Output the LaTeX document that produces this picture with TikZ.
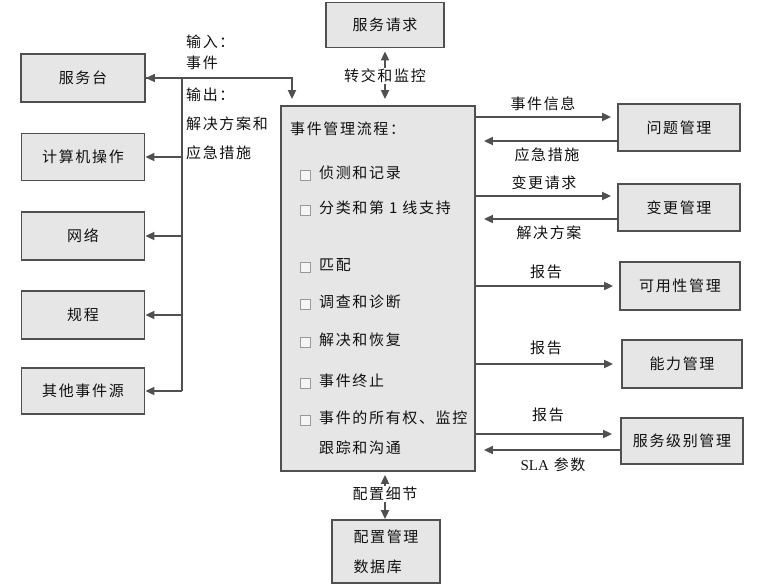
\documentclass[tikz,border=0pt]{standalone}
\usepackage{fontspec}
\setmainfont[LetterSpace=11]{Noto Sans CJK SC}
\newfontfamily\latinserif{Liberation Serif}
\usetikzlibrary{arrows.meta,calc}
\definecolor{boxfill}{HTML}{E6E6E6}
\definecolor{edge}{HTML}{505050}
\definecolor{ink}{HTML}{111111}
\tikzset{
  box/.style={draw=edge, line width=1.8pt, fill=boxfill, inner sep=0pt, text=ink, font=\fontsize{15}{17}\selectfont},
  arr/.style={draw=edge, line width=1.8pt, -{Triangle[length=9pt,width=8pt]}},
  plain/.style={draw=edge, line width=1.8pt},
  lbl/.style={text=ink, font=\fontsize{15}{17}\selectfont, inner sep=1pt},
  chk/.style={draw=gray!80, line width=1pt, fill=white!60!boxfill, minimum size=10pt, inner sep=0pt},
}
\begin{document}
\begin{tikzpicture}[x=1pt,y=-1pt]
\useasboundingbox (0,0) rectangle (759,586);
% left boxes
\node[box, minimum width=124pt, minimum height=48pt] (desk) at (83,78) {服务台};
\node[box, minimum width=123pt, minimum height=47pt] (comp) at (83,157) {计算机操作};
\node[box, minimum width=123pt, minimum height=48pt] (net) at (83,236) {网络};
\node[box, minimum width=123pt, minimum height=48pt] (proc) at (83,315) {规程};
\node[box, minimum width=123pt, minimum height=46pt] (other) at (83,391) {其他事件源};
% top and bottom
\node[box, minimum width=118pt, minimum height=45pt] (req) at (385,25) {服务请求};
\node[box, minimum width=108pt, minimum height=63pt, align=left, font=\fontsize{15}{30}\selectfont] (cmdb) at (386,551.5) {配置管理\\数据库};
% main box
\node[box, minimum width=194pt, minimum height=365pt] (main) at (378,288.5) {};
\node[lbl, anchor=west] (title) at (289,129) {事件管理流程：};
\foreach \n/\y/\t in {a/173/侦测和记录, b/208/分类和第 1 线支持, c/265/匹配, d/302/调查和诊断, e/340/解决和恢复, f/381/事件终止, g/418/事件的所有权、监控}{
  \node[chk] (c\n) at (305,\y+2) {};
  \node[lbl, anchor=west] (t\n) at (318,\y) {\t};
}
\node[lbl, anchor=west] (th) at (318,448) {跟踪和沟通};
% right boxes
\node[box, minimum width=122pt, minimum height=47pt] (prob) at (679,127.5) {问题管理};
\node[box, minimum width=122pt, minimum height=47pt] (chg) at (679,207.5) {变更管理};
\node[box, minimum width=120pt, minimum height=48pt] (avail) at (680,286) {可用性管理};
\node[box, minimum width=120pt, minimum height=48pt] (cap) at (682,364) {能力管理};
\node[box, minimum width=122pt, minimum height=46pt] (slm) at (682,441) {服务级别管理};
% left connectors
\coordinate (trunk) at (182,0);
\coordinate (inx) at (292,0);
\draw[plain] (trunk |- desk.east) -- (trunk |- other.east);
\draw[arr] (trunk |- desk.east) -- (desk.east);
\draw[arr] (desk.east) -| ([yshift=6pt]inx |- main.north);
\foreach \b in {comp,net,proc,other}{
  \draw[arr] (trunk |- \b.east) -- (\b.east);
}
\node[lbl, anchor=west] (in1) at (185,42) {输入：};
\node[lbl, anchor=west] (in2) at (185,63) {事件};
\node[lbl, anchor=west] (out1) at (185,95) {输出：};
\node[lbl, anchor=west] (out2) at (185,124) {解决方案和};
\node[lbl, anchor=west] (out3) at (185,153) {应急措施};
% top / bottom connectors
\node[lbl] (handoff) at (385,76) {转交和监控};
\draw[arr] (handoff.north) -- ([yshift=-3pt]handoff.north |- req.south);
\draw[arr] (handoff.south) -- ([yshift=6pt]handoff.south |- main.north);
\node[lbl] (cfg) at (385,494) {配置细节};
\draw[arr] (cfg.north) -- ([yshift=-3pt]cfg.north |- main.south);
\draw[arr] (cfg.south) -- (cfg.south |- cmdb.north);
% right connectors
\coordinate (p1) at ([yshift=10.5pt]prob.west);
\coordinate (p2) at ([yshift=-13.5pt]prob.west);
\coordinate (q1) at ([yshift=11.5pt]chg.west);
\coordinate (q2) at ([yshift=-11.5pt]chg.west);
\coordinate (s1) at ([yshift=7pt]slm.west);
\coordinate (s2) at ([yshift=-9pt]slm.west);
\draw[arr, shorten >=6pt] (main.east |- p1) -- (p1);
\draw[arr, shorten >=8pt] (p2) -- (main.east |- p2);
\draw[arr, shorten >=6pt] (main.east |- q1) -- (q1);
\draw[arr, shorten >=8pt] (q2) -- (main.east |- q2);
\draw[arr, shorten >=6pt] (main.east |- avail.west) -- (avail.west);
\draw[arr, shorten >=8pt] (main.east |- cap.west) -- (cap.west);
\draw[arr, shorten >=8pt] (main.east |- s1) -- (s1);
\draw[arr, shorten >=8pt] (s2) -- (main.east |- s2);
\node[lbl] (l1) at (543,104) {事件信息};
\node[lbl] (l2) at (547,155) {应急措施};
\node[lbl] (l3) at (544,183) {变更请求};
\node[lbl] (l4) at (549,233) {解决方案};
\node[lbl] (l5) at (546,272) {报告};
\node[lbl] (l6) at (546,348) {报告};
\node[lbl] (l7) at (548,415) {报告};
\node[lbl] (l8) at (553,465) {{\latinserif SLA} 参数};
\end{tikzpicture}
\end{document}
